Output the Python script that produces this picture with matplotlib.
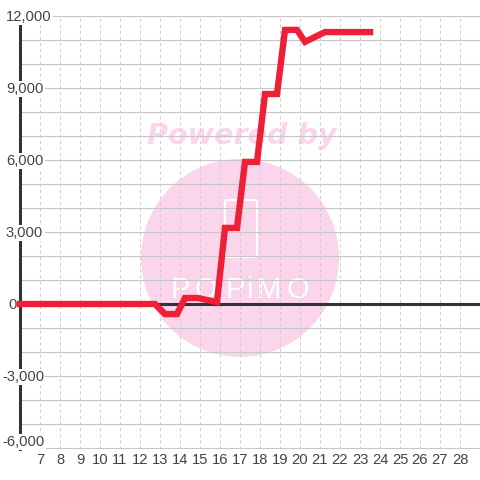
import matplotlib
matplotlib.use('Agg')
import matplotlib.pyplot as plt
from matplotlib.patches import Ellipse, FancyBboxPatch

plt.rcParams['font.family'] = ['Liberation Sans', 'DejaVu Sans']
plt.rcParams['lines.scale_dashes'] = False

# values
x_vals = [6, 12.75, 13.25, 13.85, 14.25, 14.9, 15.85, 16.25, 16.85, 17.25, 17.85,
          18.25, 18.85, 19.25, 19.85, 20.25, 20.85, 21.25, 23.5]
y_vals = [0, 0, -420, -420, 250, 250, 80, 3170, 3170, 5920, 5920,
          8750, 8750, 11420, 11420, 10920, 11170, 11330, 11330]
x_ticks = list(range(7, 29))
y_grid = list(range(-6000, 13000, 1000))
y_labels = [12000, 9000, 6000, 3000, 0, -3000, -6000]
logo_letters = ['P', 'O', 'P', 'i', 'M', 'O']

fig = plt.figure(figsize=(4.8, 4.8), dpi=100)
# one extra pixel at the bottom so the -6,000 grid line is not clipped
ax = fig.add_axes([20 / 480, 31 / 480, 460 / 480, 433 / 480])
ax.set_xlim(6, 29)
ax.set_ylim(-6000 - 1000 / 24, 12000)
for s in ax.spines.values():
    s.set_visible(False)

# watermark
ax.add_patch(Ellipse((17, 1917), 9.9, 8250, color='#fbd5ec', lw=0, zorder=0))
ax.text(17.1, 7000, 'Powered by', color='#fbd5ec', fontsize=20.6, fontweight='bold',
        fontstyle='italic', family='DejaVu Sans', ha='center', va='center', zorder=0)
logo_x = [14.0, 15.3, 16.75, 17.5, 18.45, 19.9]
for lx, letter in zip(logo_x, logo_letters):
    ax.text(lx, 600, letter, color='white', fontsize=21, ha='center', va='center', zorder=0.5)
ax.add_patch(FancyBboxPatch((16.3, 2010), 1.5, 2270, boxstyle='round,pad=0.05,rounding_size=0.1',
                            mutation_aspect=1000, fc='none', ec='white', lw=1.5, zorder=0.5))

ax.set_xticks(x_ticks)
ax.set_yticks(y_grid)
ax.set_yticklabels([])
ax.grid(axis='x', color='#cccccc', lw=0.72, dashes=(2.2, 2.2), zorder=1)
ax.grid(axis='y', color='#c6c6c6', lw=0.8, zorder=1)
ax.set_axisbelow(True)
ax.tick_params(length=0)
ax.tick_params(axis='x', labelsize=10.6, labelcolor='#444444', pad=3)

ax.axhline(0, color='#333333', lw=2.2, zorder=2)
ax.axvline(6, color='#333333', lw=2.2, zorder=2, clip_on=False)

ax.plot(x_vals, y_vals, color='#ee2038', lw=4.6, solid_joinstyle='miter', zorder=3,
        solid_capstyle='projecting', clip_on=False)

for v in y_labels:
    off_x = -14 if v >= 0 else -18
    if v == 0:
        off_x = -12
    off_y = -1
    if v == -6000:
        off_y = 6
    ann = ax.annotate(f'{v:,}', xy=(6, v), xytext=(off_x * 0.72, off_y * 0.72), textcoords='offset points',
                      ha='left', va='center', fontsize=10.6, color='#444444', zorder=2.5,
                      annotation_clip=False)
    ann.set_bbox(dict(fc='white', ec='none', pad=1))

fig.savefig('out.png', dpi=100)
